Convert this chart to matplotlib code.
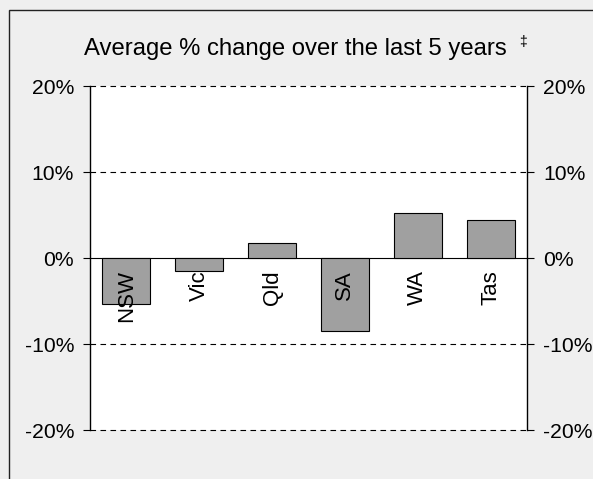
import matplotlib

matplotlib.use("Agg")
import matplotlib.pyplot as plt
from matplotlib.patches import Rectangle
import numpy as np

# ----------------------------------------------------------------------
# Data
# ----------------------------------------------------------------------
STATES = ["NSW", "Vic", "Qld", "SA", "WA", "Tas"]
CHANGE = [-5.3, -1.5, 1.7, -8.5, 5.2, 4.4]
Y_TICKS = [-20, -10, 0, 10, 20]
TITLE = "Average % change over the last 5 years"

BG = "#efefef"
BAR = "#a0a0a0"

plt.rcParams["font.family"] = ["Liberation Sans", "DejaVu Sans"]

fig = plt.figure(figsize=(5.93, 4.79), dpi=100)
fig.patch.set_facecolor(BG)

# outer frame (right / bottom edges run off the picture)
fig.patches.append(
    Rectangle((9 / 593, -0.05), 1.2, 1 - 10 / 479 + 0.05,
              transform=fig.transFigure, fill=False,
              edgecolor="#222222", linewidth=1.0)
)

ax = fig.add_axes([90 / 593, 1 - 430 / 479, 437 / 593, 344 / 479])
ax.set_facecolor("white")

x = np.arange(len(STATES))
ax.bar(x, CHANGE, width=0.66, color=BAR, edgecolor="black", linewidth=0.8, zorder=3)

for xi, name in zip(x, STATES):
    ax.text(xi, -1.4, name, rotation=90, ha="center", va="top",
            fontsize=16, zorder=4)

ax.set_xlim(-0.5, len(STATES) - 0.5)
ax.set_ylim(-20, 20)
ax.set_yticks(Y_TICKS)
ax.set_yticklabels([f"{t}%" for t in Y_TICKS], fontsize=15.2)
ax.tick_params(axis="y", left=True, right=True, labelleft=True, labelright=True,
               direction="out", length=5, width=0.8, pad=6.5)
ax.set_xticks([])

for t in Y_TICKS:
    if t == 0:
        ax.axhline(0, color="black", linewidth=0.8, zorder=2)
    else:
        ax.axhline(t, color="black", linewidth=0.8, linestyle=(0, (5, 4)),
                   zorder=2, clip_on=False)

ax.spines["top"].set_visible(False)
ax.spines["bottom"].set_visible(False)
ax.spines["left"].set_linewidth(1.0)
ax.spines["right"].set_linewidth(1.0)

fig.text(295.5 / 593, 1 - 55 / 479, TITLE, ha="center", va="baseline",
         fontsize=17.2)
fig.text(519 / 593, 1 - 46 / 479, "\u2021", ha="left", va="baseline",
         fontsize=10)

fig.savefig("out.png", dpi=100, facecolor=BG)
